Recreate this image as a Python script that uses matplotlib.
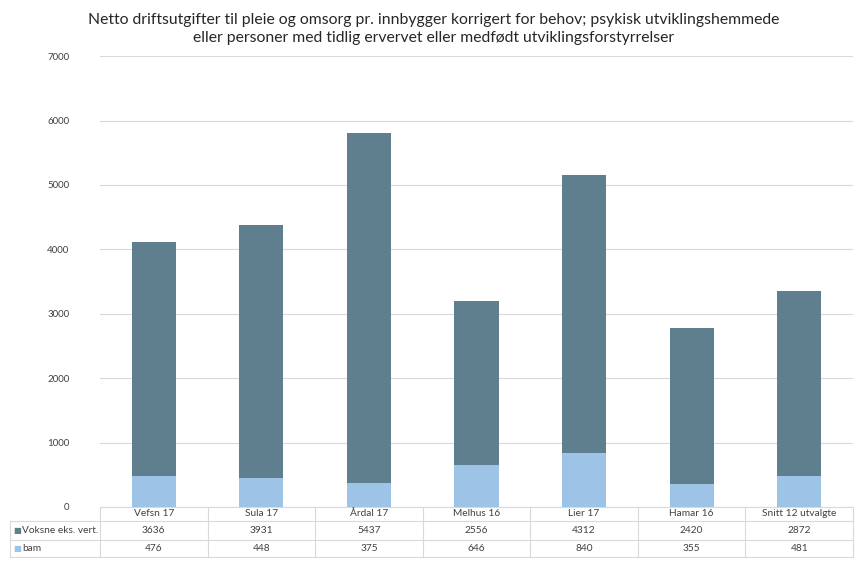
import numpy as np
import matplotlib.pyplot as plt

plt.rcParams['font.family'] = ['Lato', 'DejaVu Sans']

kommuner = ['Vefsn 17', 'Sula 17', 'Årdal 17', 'Melhus 16', 'Lier 17', 'Hamar 16', 'Snitt 12 utvalgte']
voksne = [3636, 3931, 5437, 2556, 4312, 2420, 2872]
barn = [476, 448, 375, 646, 840, 355, 481]
serier = ['Voksne eks. vert.', 'bam']

c_voksne = '#5f7f8f'
c_barn = '#9dc3e6'
c_grid = '#d9d9d9'
c_text = '#404040'

fig = plt.figure(figsize=(8.67, 5.61), dpi=100)
ax = fig.add_axes([0.1153, 0.0963, 0.8686, 0.8037])

x = np.arange(len(kommuner))
ax.bar(x, barn, width=0.41, color=c_barn, zorder=3)
ax.bar(x, voksne, bottom=barn, width=0.41, color=c_voksne, zorder=3)

ax.set_xlim(-0.5, len(kommuner) - 0.5)
ax.set_ylim(0, 7000)
ax.set_yticks(range(0, 7001, 1000))
ax.tick_params(axis='y', length=0, labelsize=7, labelcolor=c_text, pad=22)
ax.set_xticks([])
ax.yaxis.grid(True, color=c_grid, linewidth=0.8, zorder=0)
for s in ax.spines.values():
    s.set_visible(False)

fig.text(0.5, 0.977, 'Netto driftsutgifter til pleie og omsorg pr. innbygger korrigert for behov; psykisk utviklingshemmede\n'
         'eller personer med tidlig ervervet eller medfødt utviklingsforstyrrelser',
         ha='center', va='top', multialignment='center', fontsize=11.3, color='#262626', linespacing=1.4)

# data table under the axes
h = 451.0
rows = [0, -14 / h, -33 / h, -50 / h]
left = -90 / 753.0
n = len(kommuner)
tr = ax.transAxes
kw = dict(transform=tr, clip_on=False, color=c_grid, linewidth=0.8)
# horizontal lines
ax.plot([0, 1], [rows[0], rows[0]], **kw)
for r in rows[1:]:
    ax.plot([left, 1], [r, r], **kw)
# vertical lines
for i in range(n + 1):
    ax.plot([i / n, i / n], [rows[0], rows[3]], **kw)
ax.plot([left, left], [rows[1], rows[3]], **kw)

for i, k in enumerate(kommuner):
    xc = (i + 0.5) / n
    ax.text(xc, (rows[0] + rows[1]) / 2, k, transform=tr, ha='center', va='center', fontsize=7.3, color=c_text)
    ax.text(xc, (rows[1] + rows[2]) / 2, str(voksne[i]), transform=tr, ha='center', va='center', fontsize=7.3, color=c_text)
    ax.text(xc, (rows[2] + rows[3]) / 2, str(barn[i]), transform=tr, ha='center', va='center', fontsize=7.3, color=c_text)

for j, (navn, farge) in enumerate(zip(serier, [c_voksne, c_barn])):
    yc = (rows[1 + j] + rows[2 + j]) / 2
    ax.text(left + 0.004, yc, '■', transform=tr, ha='left', va='center', fontsize=6, color=farge)
    ax.text(left + 0.016, yc, navn, transform=tr, ha='left', va='center', fontsize=7.3, color=c_text)

fig.savefig('out.png', dpi=100)
